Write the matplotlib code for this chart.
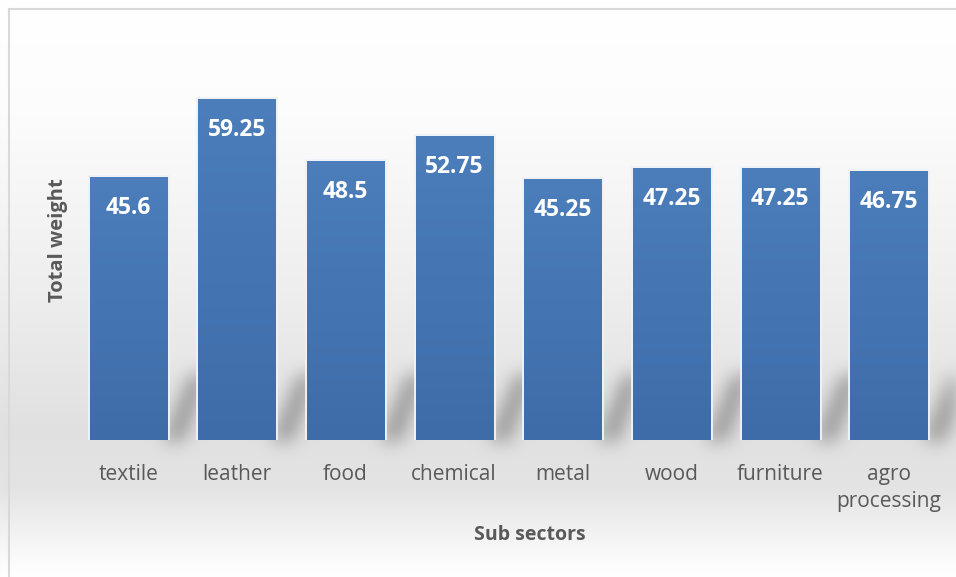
import numpy as np
import matplotlib
matplotlib.use("Agg")
import matplotlib.pyplot as plt
from matplotlib.lines import Line2D

# ── Data ──────────────────────────────────────────────────────────────────────
sectors = ["textile", "leather", "food", "chemical", "metal", "wood",
           "furniture", "agro\nprocessing"]
total_weight = [45.6, 59.25, 48.5, 52.75, 45.25, 47.25, 47.25, 46.75]
value_labels = ["45.6", "59.25", "48.5", "52.75", "45.25", "47.25", "47.25", "46.75"]

W, H, DPI = 956, 577, 100
TEXT_GREY = "#595959"
plt.rcParams["font.family"] = ["Open Sans", "DejaVu Sans"]

fig = plt.figure(figsize=(W / DPI, H / DPI), dpi=DPI)

# ── Main axes ─────────────────────────────────────────────────────────────────
ax = fig.add_axes([74 / W, 1 - 440 / H, (943 - 74) / W, (440 - 37) / H], zorder=2)
ax.set_facecolor("none")
x = np.arange(len(sectors))
ax.set_xlim(-0.5, len(sectors) - 0.5)
ax.set_ylim(0, 70)

bar_w = 0.71
# soft light halo round each bar
ax.bar(x, total_weight, width=bar_w, color="none", edgecolor="#eef2f7",
       linewidth=3.5, zorder=1)
bars = ax.bar(x, total_weight, width=bar_w, color="#4677b6", zorder=2)

# vertical gradient fill clipped to each bar
grad = np.linspace(0, 1, 256).reshape(-1, 1)
top_c = np.array([0x4b, 0x7e, 0xbb]) / 255
bot_c = np.array([0x3e, 0x6c, 0xa9]) / 255
grad_img = top_c * (1 - grad[..., None]) + bot_c * grad[..., None]
for b in bars:
    x0, w_, h_ = b.get_x(), b.get_width(), b.get_height()
    im = ax.imshow(grad_img, extent=[x0, x0 + w_, 0, h_], aspect="auto",
                   zorder=3, origin="upper")
    im.set_clip_path(b)

for xi, v, lab in zip(x, total_weight, value_labels):
    ax.annotate(lab, (xi, v), xytext=(0, -31), textcoords="offset pixels",
                ha="center", va="center", color="white", fontsize=16.5,
                fontweight="bold", zorder=4)

ax.set_xticks(x)
ax.set_xticklabels(sectors, fontsize=15, color=TEXT_GREY, linespacing=1.4)
ax.tick_params(axis="x", length=0, pad=17)
ax.set_yticks([])
for s in ax.spines.values():
    s.set_visible(False)

fig.text(530 / W, 1 - 535 / H, "Sub sectors", ha="center", va="center",
         fontsize=14, fontweight="bold", color=TEXT_GREY)
fig.text(58 / W, 1 - 240 / H, "Total weight", ha="center", va="center",
         rotation=90, fontsize=14.5, fontweight="bold", color=TEXT_GREY)

# ── Background: grey band behind the plot, with blurred bar shadows ──────────
rows = np.arange(H)
shade = np.interp(rows, [0, 110, 300, 430, 490, 560, H],
                  [1.0, 0.99, 0.93, 0.88, 0.895, 0.985, 1.0])
bg_rgb = np.repeat(shade[:, None], W, axis=1)

fig.canvas.draw()
yy, xx = np.mgrid[0:H, 0:W]
mask = np.zeros((H, W))
for b in bars:
    (xl, yb), (xr, _) = ax.transData.transform([(b.get_x(), 0),
                                                (b.get_x() + b.get_width(), 0)])
    base = H - yb
    # slanted shadow band rising to the right of the bar
    t = (base - yy) / 65.0
    inside = (t >= 0) & (t <= 1)
    left_edge = xr - 4 + 26 * t
    inside &= (xx >= left_edge) & (xx <= left_edge + 20)
    mask[inside] = 1.0


def blur(a, sigma):
    r = int(3 * sigma)
    k = np.exp(-0.5 * (np.arange(-r, r + 1) / sigma) ** 2)
    k /= k.sum()
    a = np.apply_along_axis(lambda m: np.convolve(m, k, mode="same"), 0, a)
    return np.apply_along_axis(lambda m: np.convolve(m, k, mode="same"), 1, a)


mask = blur(mask, 9)
bg_rgb = bg_rgb * (1 - 0.34 * mask)
bg = np.dstack([bg_rgb] * 3)

bg_ax = fig.add_axes([0, 0, 1, 1], zorder=0)
bg_ax.imshow(bg, extent=[0, W, H, 0], aspect="auto", interpolation="bilinear")
bg_ax.set_xlim(0, W)
bg_ax.set_ylim(H, 0)
bg_ax.axis("off")

# outer chart frame (top and left edges)
fig.add_artist(Line2D([9 / W, 1], [1 - 9 / H, 1 - 9 / H], color="#d9d9d9", lw=1.5))
fig.add_artist(Line2D([9 / W, 9 / W], [0, 1 - 9 / H], color="#d9d9d9", lw=1.5))

fig.savefig("out.png", dpi=DPI)
